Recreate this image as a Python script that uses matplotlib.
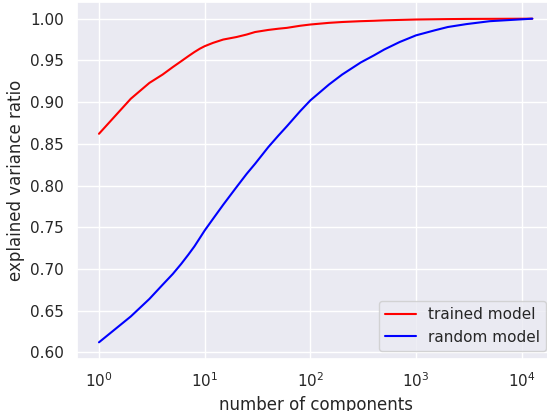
import matplotlib
matplotlib.use("Agg")
import matplotlib.pyplot as plt
import seaborn as sns

sns.set_theme()

# number of components (log x axis)
components = [1, 2, 3, 4, 5, 6, 7, 8, 9, 10, 12, 15, 20, 25, 30, 40, 50,
              60, 80, 100, 150, 200, 300, 400, 500, 700, 1000, 1500, 2000,
              3000, 5000, 12620]

# cumulative explained variance ratio
trained = [0.862, 0.904, 0.923, 0.933, 0.942, 0.949, 0.955, 0.960, 0.964,
           0.967, 0.971, 0.975, 0.978, 0.981, 0.984, 0.9865, 0.988,
           0.989, 0.9915, 0.993, 0.995, 0.996, 0.997, 0.9975, 0.998,
           0.9985, 0.999, 0.9993, 0.9995, 0.9997, 0.9998, 1.0]
random_ = [0.612, 0.643, 0.664, 0.681, 0.694, 0.706, 0.717, 0.727, 0.737,
           0.746, 0.760, 0.777, 0.798, 0.814, 0.826, 0.846, 0.860,
           0.871, 0.889, 0.902, 0.921, 0.933, 0.9475, 0.956, 0.963,
           0.972, 0.980, 0.986, 0.990, 0.9935, 0.997, 1.0]

fig = plt.figure(figsize=(5.47, 4.11), dpi=100)
ax = fig.add_axes([77.3 / 547, (411 - 358.5) / 411, (554 - 77.3) / 547, (358.5 - 2.5) / 411])

ax.plot(components, trained, color="red", label="trained model")
ax.plot(components, random_, color="blue", label="random model")
ax.set_xscale("log")
ax.set_xlabel("number of components")
ax.set_ylabel("explained variance ratio")
ax.legend(loc="lower right")

fig.savefig("out.png", dpi=100)
